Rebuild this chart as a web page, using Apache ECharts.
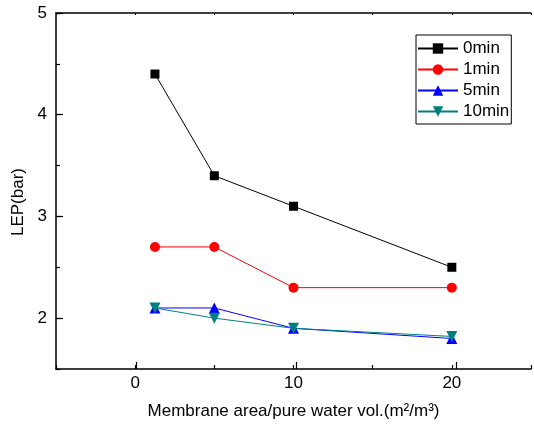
<!DOCTYPE html>
<html><head><meta charset="utf-8">
<script src="https://cdn.jsdelivr.net/npm/echarts@6/dist/echarts.min.js"></script>
<style>html,body{margin:0;padding:0;background:#fff}#c{width:534px;height:426px}</style>
</head><body><div id="c"></div>
<script>
const xValues = [1.25, 5, 10, 20];
const seriesNames = ['0min', '1min', '5min', '10min'];
const lep0 = [4.4, 3.4, 3.1, 2.5];
const lep1 = [2.7, 2.7, 2.3, 2.3];
const lep5 = [2.1, 2.1, 1.9, 1.8];
const lep10 = [2.1, 2.0, 1.9, 1.82];
const xTickLabels = [0, 10, 20];
const yTickLabels = [2, 3, 4, 5];

const FONT = 'Liberation Sans';
const W = 534, H = 426;
const X_MIN = -5, X_MAX = 25, Y_MIN = 1.5, Y_MAX = 5;
const G = {left: 56, right: -2, top: 13, bottom: 57};
const pxPerX = (W - G.left - G.right) / (X_MAX - X_MIN);
const pxPerY = (H - G.top - G.bottom) / (Y_MAX - Y_MIN);
const xMaj0 = xTickLabels[0], xMaj1 = xTickLabels[xTickLabels.length - 1];
const yMaj0 = yTickLabels[0], yMaj1 = yTickLabels[yTickLabels.length - 1];

const pair = arr => xValues.map((x, i) => [x, arr[i]]);
const chart = echarts.init(document.getElementById('c'), null, {renderer: 'canvas'});
const axisLine = {show: true, onZero: false, lineStyle: {color: '#000', width: 1.5}};
const noLine = {show: false, onZero: false};
const hidden = {show: false};
const tickStyle = {color: '#000', width: 1.2};
function mk(name, data, color, symbol, size, rotate) {
  return {name, type: 'line', data: pair(data), xAxisIndex: 0, yAxisIndex: 0,
    symbol, symbolSize: size, symbolRotate: rotate || 0,
    lineStyle: {color, width: 1}, itemStyle: {color}, animation: false};
}
const hiddenAxis = (gi, min, max) => ({type: 'value', gridIndex: gi, min, max, show: false});
chart.setOption({
  animation: false,
  textStyle: {fontFamily: FONT},
  grid: [
    G,
    {left: G.left + (xMaj0 - X_MIN) * pxPerX, right: G.right + (X_MAX - xMaj1) * pxPerX, top: G.top, bottom: G.bottom},
    {left: G.left, right: G.right, top: G.top + (Y_MAX - yMaj1) * pxPerY, bottom: G.bottom + (yMaj0 - Y_MIN) * pxPerY}
  ],
  legend: {
    orient: 'vertical', left: 416, top: 35,
    data: seriesNames,
    itemWidth: 40, itemHeight: 13, itemGap: 4,
    padding: [5, 2, 4, 1],
    borderColor: '#000', borderWidth: 1,
    textStyle: {fontFamily: FONT, fontSize: 17, color: '#000', lineHeight: 17}
  },
  xAxis: [
    {type: 'value', gridIndex: 0, min: X_MIN, max: X_MAX, interval: 5, position: 'bottom',
     axisLine, splitLine: hidden,
     axisTick: {show: true, inside: true, length: 4, lineStyle: tickStyle},
     axisLabel: {fontSize: 17, color: '#000', margin: 6,
       formatter: v => xTickLabels.includes(v) ? String(v) : ''},
     name: 'Membrane area/pure water vol.(m\u00B2/m\u00B3)', nameLocation: 'middle', nameGap: 34,
     nameTextStyle: {fontSize: 17, color: '#000'}},
    {type: 'value', gridIndex: 0, min: X_MIN, max: X_MAX, interval: 5, position: 'top',
     axisLine, splitLine: hidden, axisLabel: hidden,
     axisTick: {show: true, inside: true, length: 2, lineStyle: {color: '#000', width: 1}}},
    {type: 'value', gridIndex: 1, min: xMaj0, max: xMaj1, interval: 10, position: 'bottom',
     axisLine: noLine, splitLine: hidden, axisLabel: hidden,
     axisTick: {show: true, inside: true, length: 7, lineStyle: tickStyle}},
    hiddenAxis(2, X_MIN, X_MAX)
  ],
  yAxis: [
    {type: 'value', gridIndex: 0, min: Y_MIN, max: Y_MAX, interval: 0.5, position: 'left',
     axisLine, splitLine: hidden,
     axisTick: {show: true, inside: true, length: 4, lineStyle: tickStyle},
     axisLabel: {fontSize: 17, color: '#000', margin: 9,
       formatter: v => yTickLabels.includes(v) ? String(v) : ''},
     name: 'LEP(bar)', nameLocation: 'middle', nameGap: 14, nameRotate: 90,
     nameTextStyle: {fontSize: 17, color: '#000', padding: [0, 22, 0, 0]}},
    hiddenAxis(1, Y_MIN, Y_MAX),
    {type: 'value', gridIndex: 2, min: yMaj0, max: yMaj1, interval: 1, position: 'left',
     axisLine: noLine, splitLine: hidden, axisLabel: hidden,
     axisTick: {show: true, inside: true, length: 7, lineStyle: tickStyle}}
  ],
  series: [
    mk('0min', lep0, '#000000', 'rect', 9),
    mk('1min', lep1, '#ff0000', 'circle', 10),
    mk('5min', lep5, '#0000ff', 'triangle', 11),
    mk('10min', lep10, '#008080', 'triangle', 11, 180)
  ]
});
</script></body></html>
